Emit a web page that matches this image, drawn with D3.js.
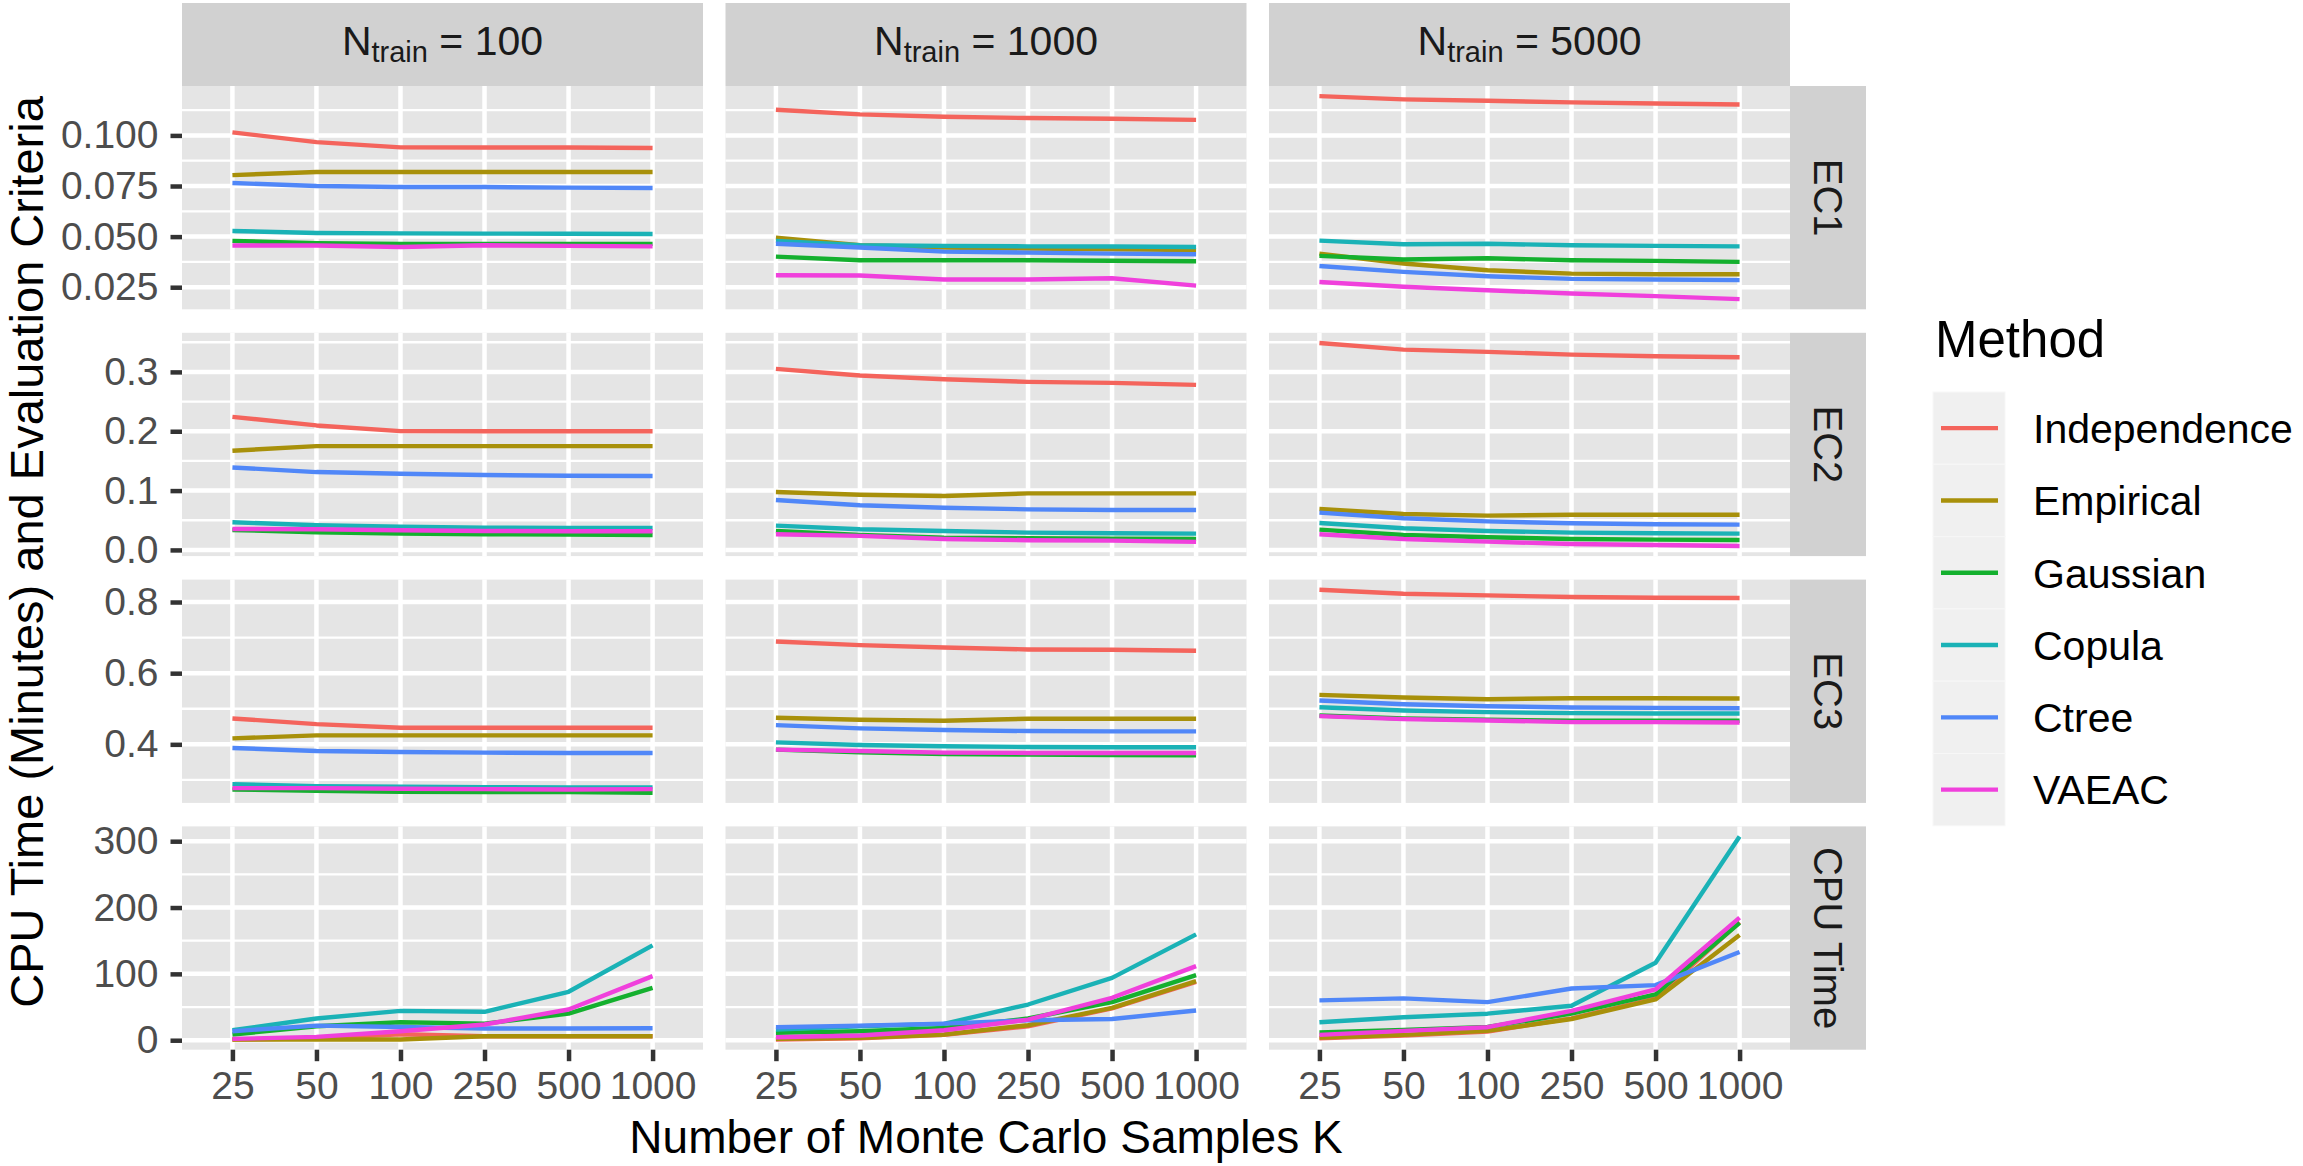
<!DOCTYPE html>
<html>
<head>
<meta charset="utf-8">
<script src="https://cdn.jsdelivr.net/npm/d3@7"></script>
<style>
  body { margin: 0; background: #ffffff; }
  svg { display: block; font-family: "Liberation Sans", Arial, Helvetica, sans-serif; }
</style>
</head>
<body>
<script>
// categories
var kValues = ["25", "50", "100", "250", "500", "1000"]
var methods = ["Independence", "Empirical", "Gaussian", "Copula", "Ctree", "VAEAC"]
var methodColors = ["#F4645C", "#A8900A", "#14B02E", "#1AB2B6", "#5087F8", "#F040DC"]
var nTrainLabels = ["100", "1000", "5000"]
var criteria = ["EC1", "EC2", "EC3", "CPU Time"]

// tick labels per row
var ec1Ticks = [0.025, 0.05, 0.075, 0.1]
var ec1TickLabels = ["0.025", "0.050", "0.075", "0.100"]
var ec2Ticks = [0, 0.1, 0.2, 0.3]
var ec2TickLabels = ["0.0", "0.1", "0.2", "0.3"]
var ec3Ticks = [0.4, 0.6, 0.8]
var ec3TickLabels = ["0.4", "0.6", "0.8"]
var cpuTicks = [0, 100, 200, 300]
var cpuTickLabels = ["0", "100", "200", "300"]

// values: one row per method (same order as methods), one column per K
var ec1_n100 = [
    [0.1015, 0.0967, 0.0941, 0.0940, 0.0940, 0.0938],
    [0.0804, 0.0819, 0.0819, 0.0819, 0.0819, 0.0819],
    [0.0479, 0.0467, 0.0464, 0.0464, 0.0464, 0.0464],
    [0.0528, 0.0518, 0.0516, 0.0515, 0.0514, 0.0513],
    [0.0765, 0.0750, 0.0745, 0.0745, 0.0742, 0.0740],
    [0.0456, 0.0456, 0.0449, 0.0457, 0.0454, 0.0452]
]
var ec1_n1000 = [
    [0.1127, 0.1104, 0.1092, 0.1086, 0.1082, 0.1077],
    [0.0495, 0.0457, 0.0446, 0.0441, 0.0437, 0.0433],
    [0.0401, 0.0383, 0.0383, 0.0383, 0.0381, 0.0378],
    [0.0479, 0.0457, 0.0454, 0.0452, 0.0451, 0.0449],
    [0.0465, 0.0446, 0.0426, 0.0421, 0.0416, 0.0413],
    [0.0309, 0.0308, 0.0288, 0.0288, 0.0294, 0.0258]
]
var ec1_n5000 = [
    [0.1194, 0.1178, 0.1171, 0.1163, 0.1158, 0.1153],
    [0.0416, 0.0367, 0.0334, 0.0317, 0.0314, 0.0314],
    [0.0405, 0.0387, 0.0393, 0.0383, 0.0380, 0.0375],
    [0.0480, 0.0462, 0.0465, 0.0457, 0.0454, 0.0452],
    [0.0355, 0.0326, 0.0304, 0.0291, 0.0288, 0.0285],
    [0.0276, 0.0252, 0.0235, 0.0219, 0.0206, 0.0191]
]
var ec2_n100 = [
    [0.2243, 0.2098, 0.2002, 0.2000, 0.2000, 0.2000],
    [0.1671, 0.1750, 0.1750, 0.1750, 0.1750, 0.1750],
    [0.0337, 0.0297, 0.0275, 0.0264, 0.0258, 0.0252],
    [0.0466, 0.0415, 0.0393, 0.0376, 0.0372, 0.0370],
    [0.1390, 0.1312, 0.1284, 0.1262, 0.1250, 0.1245],
    [0.0353, 0.0348, 0.0331, 0.0320, 0.0314, 0.0314]
]
var ec2_n1000 = [
    [0.3051, 0.2939, 0.2877, 0.2832, 0.2815, 0.2782],
    [0.0976, 0.0931, 0.0909, 0.0953, 0.0953, 0.0953],
    [0.0320, 0.0252, 0.0208, 0.0196, 0.0190, 0.0185],
    [0.0409, 0.0348, 0.0320, 0.0292, 0.0280, 0.0275],
    [0.0841, 0.0752, 0.0712, 0.0684, 0.0673, 0.0673],
    [0.0264, 0.0236, 0.0185, 0.0163, 0.0157, 0.0135]
]
var ec2_n5000 = [
    [0.3488, 0.3376, 0.3337, 0.3292, 0.3264, 0.3247],
    [0.0690, 0.0606, 0.0578, 0.0594, 0.0594, 0.0594],
    [0.0342, 0.0252, 0.0213, 0.0185, 0.0174, 0.0168],
    [0.0454, 0.0365, 0.0320, 0.0292, 0.0280, 0.0275],
    [0.0628, 0.0533, 0.0482, 0.0449, 0.0432, 0.0426],
    [0.0264, 0.0185, 0.0140, 0.0101, 0.0084, 0.0067]
]
var ec3_n100 = [
    [0.4727, 0.4569, 0.4466, 0.4466, 0.4466, 0.4466],
    [0.4168, 0.4252, 0.4252, 0.4252, 0.4252, 0.4252],
    [0.2732, 0.2695, 0.2667, 0.2658, 0.2658, 0.2639],
    [0.2881, 0.2825, 0.2807, 0.2797, 0.2788, 0.2788],
    [0.3897, 0.3814, 0.3786, 0.3767, 0.3758, 0.3758],
    [0.2769, 0.2769, 0.2750, 0.2741, 0.2732, 0.2741]
]
var ec3_n1000 = [
    [0.6890, 0.6788, 0.6723, 0.6667, 0.6657, 0.6630],
    [0.4746, 0.4690, 0.4662, 0.4718, 0.4718, 0.4718],
    [0.3851, 0.3776, 0.3730, 0.3711, 0.3702, 0.3692],
    [0.4056, 0.3981, 0.3944, 0.3925, 0.3916, 0.3916],
    [0.4541, 0.4448, 0.4401, 0.4373, 0.4364, 0.4364],
    [0.3851, 0.3814, 0.3767, 0.3758, 0.3758, 0.3758]
]
var ec3_n5000 = [
    [0.8345, 0.8233, 0.8187, 0.8140, 0.8121, 0.8112],
    [0.5389, 0.5315, 0.5268, 0.5296, 0.5296, 0.5287],
    [0.4811, 0.4727, 0.4690, 0.4662, 0.4662, 0.4662],
    [0.5044, 0.4951, 0.4904, 0.4876, 0.4867, 0.4867],
    [0.5231, 0.5128, 0.5072, 0.5035, 0.5025, 0.5016],
    [0.4793, 0.4709, 0.4671, 0.4625, 0.4625, 0.4615]
]
var cpu_n100 = [
    [1, 3, 9, 6, 6, 6],
    [1, 1, 1, 6, 6, 6],
    [8.6, 21, 27, 25, 40, 79],
    [15, 32.7, 44.3, 42.8, 73, 143],
    [13.6, 22, 20, 17.6, 17.6, 18],
    [2, 5, 13.6, 23.7, 46.3, 96.6]
]
var cpu_n1000 = [
    [1, 3, 8, 21, 48, 88],
    [2, 3.5, 8.6, 22.6, 48.8, 89],
    [11, 13.6, 18.6, 32.7, 57.4, 98],
    [16, 21, 24.7, 53.8, 94, 159.5],
    [19.6, 22, 25, 30, 32, 44.8],
    [4.5, 7, 15, 31, 64, 111.7]
]
var cpu_n5000 = [
    [3, 7, 13, 33, 63, 178],
    [4, 8, 14, 32, 61.4, 158.5],
    [11.6, 15.6, 20, 40, 69, 177],
    [27, 34.7, 40, 52, 116.8, 307],
    [60, 63, 57.4, 78, 83, 133],
    [8, 14, 19.6, 44.3, 76.5, 184.7]
]

var rows = [
    { panels: [ec1_n100, ec1_n1000, ec1_n5000], ticks: ec1Ticks, labels: ec1TickLabels },
    { panels: [ec2_n100, ec2_n1000, ec2_n5000], ticks: ec2Ticks, labels: ec2TickLabels },
    { panels: [ec3_n100, ec3_n1000, ec3_n5000], ticks: ec3Ticks, labels: ec3TickLabels },
    { panels: [cpu_n100, cpu_n1000, cpu_n5000], ticks: cpuTicks, labels: cpuTickLabels }
]

// layout
const svgWidth = 2303
const svgHeight = 1166
const panelLeft = 182
const panelTop = 86
const panelW = 521
const panelH = 223.3
const colGap = 22.5
const rowGap = 23.5
const stripTop = 3
const stripW = 76
const tickLen = 11.5
const fontStack = "Liberation Sans, Arial, Helvetica, sans-serif"

var svg = d3.select("body").append("svg")
    .attr("width", svgWidth)
    .attr("height", svgHeight)

svg.append("rect").attr("width", svgWidth).attr("height", svgHeight).attr("fill", "#ffffff")

var x = d3.scalePoint()
    .domain(kValues)
    .range([0, panelW])
    .padding(0.6)

function colX(c) { return panelLeft + c * (panelW + colGap) }
function rowY(r) { return panelTop + r * (panelH + rowGap) }

rows.forEach(function (row, r) {
    //shared y scale per row, ggplot style 5% expansion
    var all = row.panels.flat(2)
    var lo = d3.min(all), hi = d3.max(all)
    var pad = (hi - lo) * 0.05
    var y = d3.scaleLinear().domain([lo - pad, hi + pad]).range([panelH, 0])

    var line = d3.line()
        .x((d, i) => x(kValues[i]))
        .y(d => y(d))

    //minor breaks halfway between majors
    var step = row.ticks[1] - row.ticks[0]
    var minor = [row.ticks[0] - step / 2].concat(row.ticks.map(t => t + step / 2))
        .filter(v => v >= y.domain()[0] && v <= y.domain()[1])

    row.panels.forEach(function (panel, c) {
        var g = svg.append("g")
            .attr("transform", "translate(" + colX(c) + "," + rowY(r) + ")")

        g.append("rect")
            .attr("width", panelW)
            .attr("height", panelH)
            .attr("fill", "#E5E5E5")

        g.selectAll(".minor").data(minor).enter().append("line")
            .attr("x1", 0).attr("x2", panelW)
            .attr("y1", d => y(d)).attr("y2", d => y(d))
            .attr("stroke", "#ffffff").attr("stroke-width", 2.3)

        g.selectAll(".vmajor").data(kValues).enter().append("line")
            .attr("x1", d => x(d)).attr("x2", d => x(d))
            .attr("y1", 0).attr("y2", panelH)
            .attr("stroke", "#ffffff").attr("stroke-width", 4.5)

        g.selectAll(".hmajor").data(row.ticks).enter().append("line")
            .attr("x1", 0).attr("x2", panelW)
            .attr("y1", d => y(d)).attr("y2", d => y(d))
            .attr("stroke", "#ffffff").attr("stroke-width", 4.5)

        //method lines
        g.selectAll(".series").data(panel).enter().append("path")
            .attr("d", d => line(d))
            .attr("fill", "none")
            .attr("stroke", (d, i) => methodColors[i])
            .attr("stroke-width", 4.4)
            .attr("stroke-linejoin", "round")

        //y axis on the first column
        if (c === 0) {
            var yAxis = d3.axisLeft(y)
                .tickValues(row.ticks)
                .tickFormat((d, i) => row.labels[i])
                .tickSize(tickLen)
                .tickPadding(12)
            var ya = g.append("g").call(yAxis)
            ya.select(".domain").remove()
            ya.selectAll("line").attr("stroke", "#333333").attr("stroke-width", 4.5)
            ya.selectAll("text")
                .attr("fill", "#4D4D4D")
                .attr("font-size", 39)
                .attr("font-family", fontStack)
        }

        //x axis on the bottom row
        if (r === rows.length - 1) {
            var xAxis = d3.axisBottom(x).tickSize(tickLen).tickPadding(10)
            var xa = g.append("g")
                .attr("transform", "translate(0," + panelH + ")")
                .call(xAxis)
            xa.select(".domain").remove()
            xa.selectAll("line").attr("stroke", "#333333").attr("stroke-width", 4.5)
            xa.selectAll("text")
                .attr("fill", "#4D4D4D")
                .attr("font-size", 39)
                .attr("font-family", fontStack)
        }
    })

    //right strip
    var sx = colX(2) + panelW
    svg.append("rect")
        .attr("x", sx).attr("y", rowY(r))
        .attr("width", stripW).attr("height", panelH)
        .attr("fill", "#D1D1D1")
    svg.append("text")
        .attr("transform", "translate(" + (sx + stripW / 2) + "," + (rowY(r) + panelH / 2) + ") rotate(90)")
        .attr("text-anchor", "middle")
        .attr("dy", "0.36em")
        .attr("font-size", 40)
        .attr("fill", "#1A1A1A")
        .text(criteria[r])
})

//top strips with N_train subscript
nTrainLabels.forEach(function (n, c) {
    svg.append("rect")
        .attr("x", colX(c)).attr("y", stripTop)
        .attr("width", panelW).attr("height", panelTop - stripTop)
        .attr("fill", "#D1D1D1")
    var t = svg.append("text")
        .attr("x", colX(c) + panelW / 2)
        .attr("y", 55)
        .attr("text-anchor", "middle")
        .attr("font-size", 41)
        .attr("fill", "#1A1A1A")
    t.append("tspan").text("N")
    t.append("tspan").attr("font-size", 29).attr("dy", 7).text("train")
    t.append("tspan").attr("dy", -7).text(" = " + n)
})

//axis titles
var plotMidX = panelLeft + (3 * panelW + 2 * colGap) / 2

svg.append("text")
    .attr("x", plotMidX)
    .attr("y", 1153)
    .attr("text-anchor", "middle")
    .attr("font-size", 46)
    .attr("fill", "#000000")
    .text("Number of Monte Carlo Samples K")

svg.append("text")
    .attr("transform", "translate(43,552) rotate(-90)")
    .attr("text-anchor", "middle")
    .attr("font-size", 47)
    .attr("fill", "#000000")
    .text("CPU Time (Minutes) and Evaluation Criteria")

//legend
const keyW = 72
const keyH = 72.3

svg.append("text")
    .attr("x", 1935)
    .attr("y", 357)
    .attr("font-size", 51)
    .attr("fill", "#000000")
    .text("Method")

var legend = svg.append("g").attr("transform", "translate(1933,392)")

var items = legend.selectAll(".item").data(methods).enter().append("g")
    .attr("transform", (d, i) => "translate(0," + i * keyH + ")")

items.append("rect")
    .attr("width", keyW).attr("height", keyH)
    .attr("fill", "#F0F0F0")
    .attr("stroke", "#F7F7F7").attr("stroke-width", 1)

items.append("line")
    .attr("x1", 8).attr("x2", 65)
    .attr("y1", keyH / 2).attr("y2", keyH / 2)
    .attr("stroke", (d, i) => methodColors[i])
    .attr("stroke-width", 4.4)

items.append("text")
    .attr("x", 100)
    .attr("y", keyH / 2)
    .attr("dy", "0.36em")
    .attr("font-size", 41)
    .attr("fill", "#000000")
    .text(d => d)
</script>
</body>
</html>
